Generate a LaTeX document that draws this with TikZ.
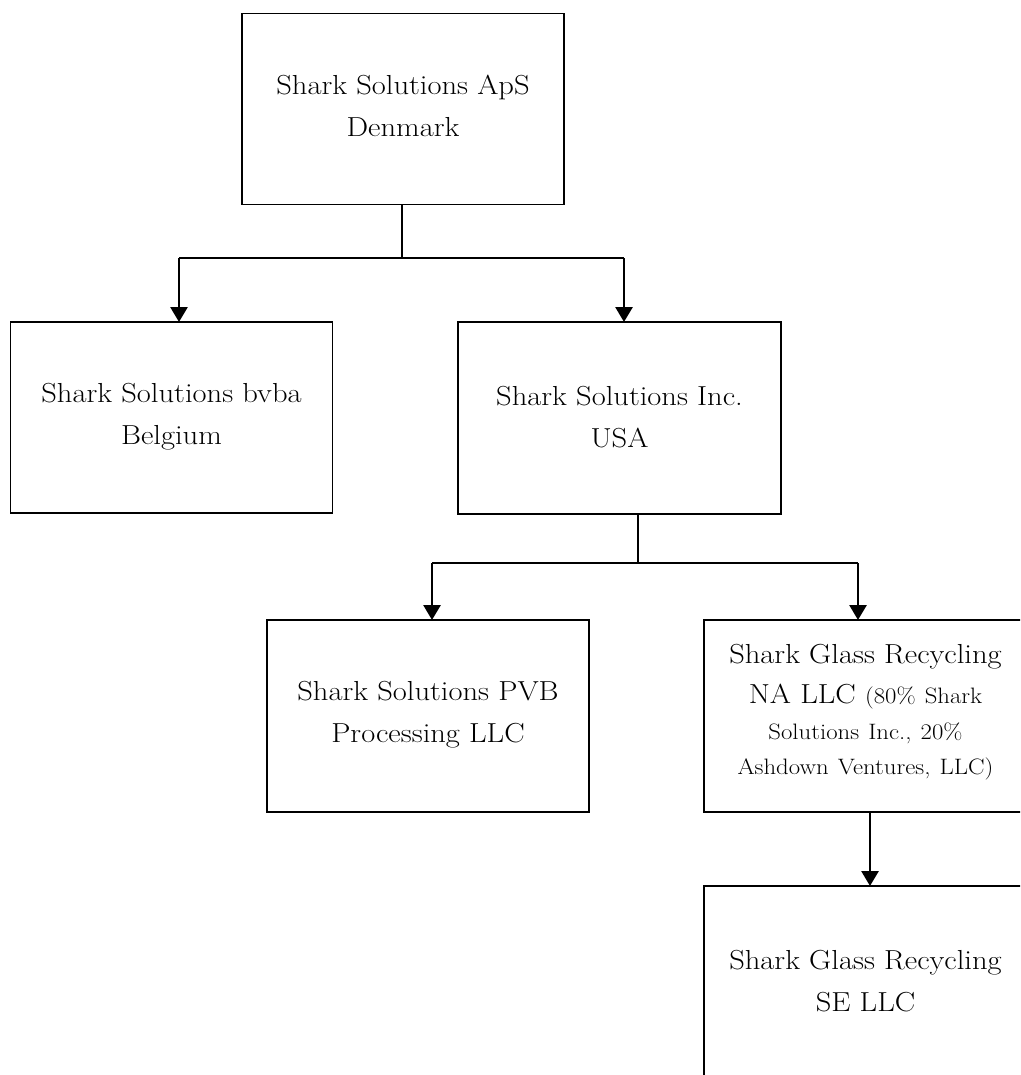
\documentclass[tikz,border=0pt]{standalone}
\usepackage{fontspec}
\setmainfont{Latin Modern Roman}[FakeStretch=1.11]
\usetikzlibrary{arrows.meta}
\tikzset{
  box/.style={draw=black, line width=1.7pt, rectangle, inner sep=0pt,
    minimum width=322pt, minimum height=191pt},
  txt/.style={inner sep=0pt, text width=318pt, align=center,
    font=\fontsize{27.5}{42}\selectfont},
  conn/.style={draw=black, line width=1.7pt},
  arr/.style={draw=black, line width=2.8pt, -{Triangle[width=17pt,length=15pt]}}
}
\newcommand{\smalltxt}{\fontsize{22.3}{35}\selectfont}
\begin{document}
\begin{tikzpicture}[x=1pt,y=-1pt]
\useasboundingbox (0,0) rectangle (1020,1075);
\clip (0,0) rectangle (1020,1075);
\node[box] (A) at (403,109) {};
\node[box] (B) at (171.5,417.5) {};
\node[box, minimum width=323pt, minimum height=192pt] (C) at (619.5,418) {};
\node[box, minimum height=192pt] (D) at (428,716) {};
\node[box, minimum width=323pt, minimum height=192pt] (E) at (865.5,716) {};
\node[box, minimum width=323pt, minimum height=192pt] (F) at (865.5,982) {};
\node[txt] (At) at ([yshift=3pt]A.center) {Shark Solutions ApS\\Denmark};
\node[txt] (Bt) at ([yshift=1pt]B.center) {Shark Solutions bvba\\Belgium};
\node[txt] (Ct) at ([yshift=1pt]C.center) {Shark Solutions Inc.\\USA};
\node[txt] (Dt) at ([yshift=1pt]D.center) {Shark Solutions PVB\\Processing LLC};
\node[txt] (Et) at ([yshift=4pt]E.center)
  {Shark Glass Recycling\\[-2pt]NA LLC {\smalltxt (80\% Shark}\\[-6pt]{\smalltxt Solutions Inc., 20\%}\\[-7pt]{\smalltxt Ashdown Ventures, LLC)}};
\node[txt] (Ft) at ([yshift=1pt]F.center) {Shark Glass Recycling\\SE LLC};
% connectors from A
\coordinate (j1) at (402,258);
\coordinate (bt) at (179,322);
\coordinate (ct) at (624,322);
\draw[conn] (A.south -| j1) -- (j1);
\draw[conn] (j1 -| bt) -- (j1 -| ct);
\draw[arr] (j1 -| bt) -- (bt);
\draw[arr] (j1 -| ct) -- (ct);
% connectors from C
\coordinate (j2) at (638,563);
\coordinate (dt) at (432,620);
\coordinate (et) at (858,620);
\draw[conn] (C.south -| j2) -- (j2);
\draw[conn] (j2 -| dt) -- (j2 -| et);
\draw[arr] (j2 -| dt) -- (dt);
\draw[arr] (j2 -| et) -- (et);
% E to F
\coordinate (eb) at (870,812);
\coordinate (ft) at (870,886);
\draw[arr] (eb) -- (ft);
\end{tikzpicture}
\end{document}
